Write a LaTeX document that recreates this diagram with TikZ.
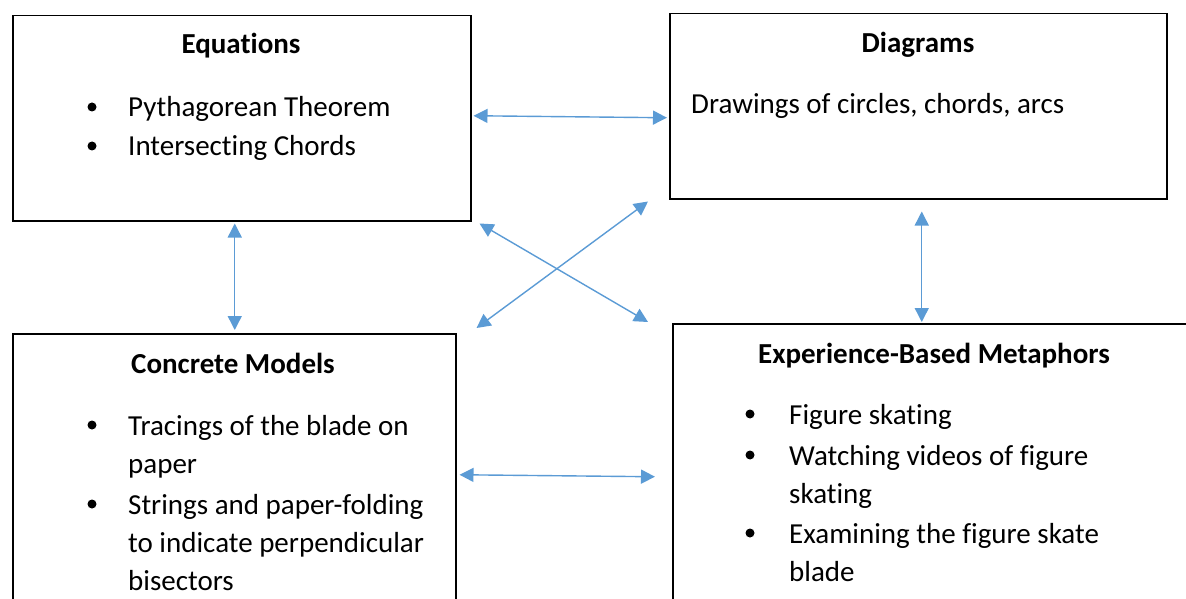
\documentclass[tikz,border=0pt]{standalone}
\usepackage{fontspec}
\setmainfont[Ligatures=CommonOff]{Carlito}
\usetikzlibrary{arrows.meta,positioning}
\definecolor{LinkBlue}{HTML}{5B9BD5}
\newcommand{\bodyfont}{\fontsize{29}{38}\selectfont}
\tikzset{
  box/.style={draw=black,line width=1.5pt,anchor=north west,inner sep=0pt},
  hd/.style={anchor=base,inner sep=0pt,font=\bodyfont\bfseries},
  txt/.style={anchor=base west,align=left,inner sep=0pt,font=\bodyfont},
  bul/.style={circle,fill=black,inner sep=0pt,minimum size=9pt},
  arr/.style={{Triangle[length=14pt,width=14pt]}-{Triangle[length=14pt,width=14pt]},
              draw=LinkBlue,line width=1.4pt}
}

\begin{document}
\begin{tikzpicture}[x=1pt,y=-1pt]
  \useasboundingbox (0,0) rectangle (1186,599);
  \clip (0,0) rectangle (1186,599);

  % boxes
  \node[box,minimum width=458pt,minimum height=205pt] (eq) at (12,15) {};
  \node[box,minimum width=497pt,minimum height=185pt] (diag) at (669,13) {};
  \node[box,minimum width=443pt,minimum height=300pt] (conc) at (12,333) {};
  \node[box,minimum width=524pt,minimum height=300pt] (exp) at (672,323) {};

  % equations
  \node[hd] (eqh) at (241,54) {Equations};
  \node[bul] (eqb1) at (92,107) {};
  \node[bul] (eqb2) at (92,146) {};
  \node[txt] (eq1) at (128,117) {Pythagorean Theorem};
  \node[txt] (eq2) at (128,156) {Intersecting Chords};

  % diagrams
  \node[hd] (diagh) at (918,53) {Diagrams};
  \node[txt] (diag1) at (691,114) {Drawings of circles, chords, arcs};

  % concrete models (base = last line)
  \node[hd] (conch) at (233,373) {Concrete Models};
  \node[bul] (concb1) at (92,425) {};
  \node[bul] (concb2) at (92,504) {};
  \node[txt] (conc1) at (128,473) {Tracings of the blade on\\paper};
  \node[txt] (conc2) at (128,590) {Strings and paper-folding\\to indicate perpendicular\\bisectors};

  % metaphors
  \node[hd] (exph) at (934,363) {Experience-Based Metaphors};
  \node[bul] (expb1) at (750,414) {};
  \node[bul] (expb2) at (750,455) {};
  \node[bul] (expb3) at (750,533) {};
  \node[txt] (exp1) at (789,424) {Figure skating};
  \node[txt] (exp2) at (789,503) {Watching videos of figure\\skating};
  \node[txt] (exp3) at (789,581) {Examining the figure skate\\blade};

  % links
  \draw[arr] ([shift={(2,-2.5)}]eq.east) -- ([shift={(-2,11.5)}]diag.west);
  \draw[arr] ([shift={(-7,2)}]eq.south) -- ([shift={(0.5,-3)}]conc.north);
  \draw[arr] ([shift={(8,2)}]eq.south east) -- ([shift={(-24,-1)}]exp.north west);
  \draw[arr] ([shift={(20,-5)}]conc.north east) -- ([shift={(-21,2)}]diag.south west);
  \draw[arr] ([shift={(3.5,12)}]diag.south) -- ([shift={(-13,-1)}]exp.north);
  \draw[arr] ([shift={(3,-9)}]conc.east) -- ([shift={(-17,3)}]exp.west);
\end{tikzpicture}
\end{document}
